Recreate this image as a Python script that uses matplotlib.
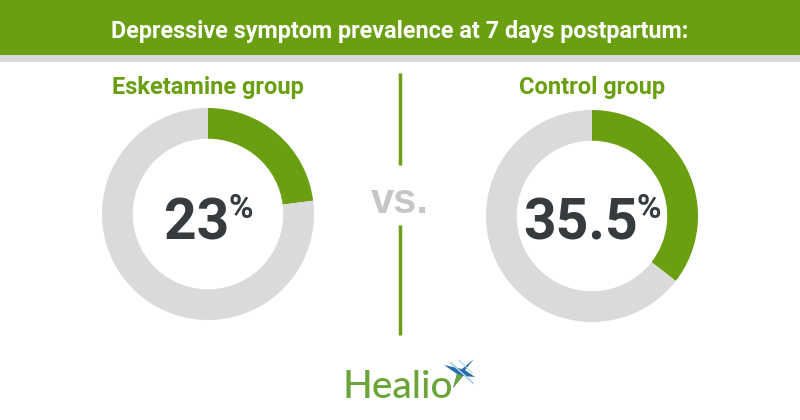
import matplotlib.pyplot as plt
from matplotlib.patches import Rectangle, Polygon

title = "Depressive symptom prevalence at 7 days postpartum:"
groups = ["Esketamine group", "Control group"]
prevalence = [23, 35.5]
value_labels = ["23", "35.5"]

GREEN = "#6a9f12"
GRAY = "#dadada"
DARK = "#363b3e"

W, H = 800, 420
fig = plt.figure(figsize=(W / 100, H / 100), dpi=100)

# background axes in pixel coords (y down)
bg = fig.add_axes([0, 0, 1, 1])
bg.set_xlim(0, W)
bg.set_ylim(H, 0)
bg.axis("off")

bg.add_patch(Rectangle((0, 0), W, 55, color=GREEN, lw=0))
bg.add_patch(Rectangle((0, 55), W, 7, color="#d9d9d9", lw=0))
bg.text(400, 38, title, color="white", fontsize=16.8, fontweight="bold",
        family="Roboto", ha="center", va="baseline")

# divider
bg.plot([400, 400], [73, 165], color=GREEN, lw=2.5, solid_capstyle="butt")
bg.plot([400, 400], [225, 335], color=GREEN, lw=2.5, solid_capstyle="butt")
bg.text(400, 213, "vs.", color="#c6c6c6", fontsize=30, fontweight="bold",
        family="Liberation Sans", ha="center", va="baseline")

centers = [(208, 214), (592, 216)]
radius = 106

for (cx, cy), name, val, lab in zip(centers, groups, prevalence, value_labels):
    ax = fig.add_axes([(cx - radius) / W, (H - cy - radius) / H,
                       2 * radius / W, 2 * radius / H])
    ax.pie([val, 100 - val], colors=[GREEN, GRAY], startangle=90,
           counterclock=False, radius=1.0,
           wedgeprops=dict(width=0.29, linewidth=0))
    ax.set_aspect("equal")
    ax.set_xlim(-1, 1)
    ax.set_ylim(-1, 1)

    bg.text(cx, 94, name, color=GREEN, fontsize=17, fontweight="bold",
            family="Roboto", ha="center", va="baseline")
    num = bg.text(cx - 11, 240, lab, color=DARK, fontsize=41,
                  fontweight="bold", family="Roboto", ha="center",
                  va="baseline")
    bg.annotate("%", xy=(1.0, 1.0), xycoords=num, xytext=(-1, 3),
                textcoords="offset points", color=DARK, fontsize=24,
                fontweight="bold", family="Roboto", ha="left", va="top")

# Healio logo
bg.text(342, 398, "Healio", color="#6ba539", fontsize=28, family="Lato",
        fontweight="medium", ha="left", va="baseline")
sx, sy = 458, 372
star = [(sx + 16, sy - 13), (sx + 4, sy - 3), (sx - 14, sy - 7),
        (sx - 1, sy + 2), (sx - 5, sy + 16), (sx + 5, sy + 4),
        (sx + 17, sy + 5), (sx + 7, sy - 2)]
bg.add_patch(Polygon(star, closed=True, color="#2b6ca8", lw=0))
bg.add_patch(Polygon([(sx - 1, sy + 2), (sx - 5, sy + 16), (sx + 5, sy + 4)],
                     closed=True, color="#6ba539", lw=0))
bg.plot([sx - 7, sx + 15], [sy - 9, sy + 11], color="#9fd0ee", lw=1.2)
bg.plot([sx + 1, sx + 14], [sy - 12, sy + 1], color="#9fd0ee", lw=0.8)

fig.savefig("out.png", dpi=100)
